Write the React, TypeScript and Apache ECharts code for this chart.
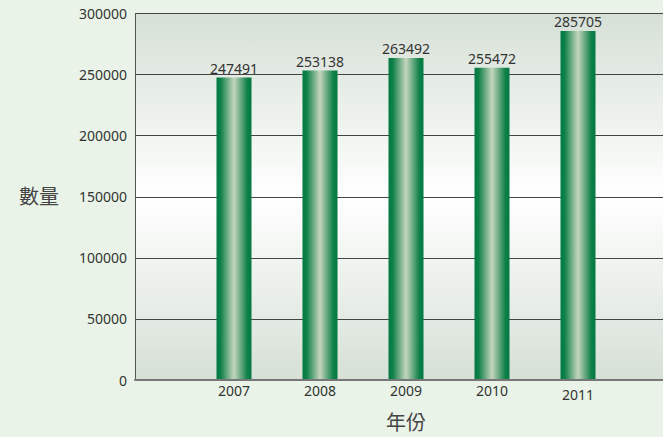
import React, { useEffect, useRef } from "react";
import * as echarts from "echarts";

const years = ["2007", "2008", "2009", "2010", "2011"];
const counts = [247491, 253138, 263492, 255472, 285705];
const yTicks = [0, 50000, 100000, 150000, 200000, 250000, 300000];

const FONT = "'Noto Sans', 'Noto Sans CJK TC', sans-serif";

export default function App() {
  const ref = useRef<HTMLDivElement>(null);
  useEffect(() => {
    if (!ref.current) return;
    const chart = echarts.init(ref.current, undefined, { renderer: "svg" });
    const yMax = yTicks[yTicks.length - 1];
    const yStep = yTicks[1] - yTicks[0];
    chart.setOption({
      animation: false,
      backgroundColor: "#eaf3e8",
      textStyle: { fontFamily: FONT },
      grid: [
        {
          left: 135,
          top: 13.5,
          right: 0,
          bottom: 57,
          show: true,
          borderWidth: 0,
          backgroundColor: new echarts.graphic.LinearGradient(0, 0, 0, 1, [
            { offset: 0, color: "#d6e0d6" },
            { offset: 0.5, color: "#ffffff" },
            { offset: 1, color: "#d6e0d6" },
          ]),
        },
        { left: 191, width: 430, top: 13.5, bottom: 57 },
      ],
      xAxis: [
        {
          type: "category",
          gridIndex: 0,
          data: [""],
          axisLine: { show: true, lineStyle: { color: "#777", width: 2 } },
          axisTick: { show: false },
          axisLabel: { show: false },
        },
        {
          type: "category",
          gridIndex: 1,
          data: years.map((y, i) =>
            i === years.length - 1
              ? { value: y, textStyle: { padding: [5, 0, 0, 0] } }
              : y
          ),
          axisLine: { show: false },
          axisTick: { show: false },
          axisLabel: { color: "#333", fontSize: 14, margin: 4, fontFamily: FONT },
          name: "年份",
          nameLocation: "middle",
          nameGap: 33,
          nameTextStyle: { color: "#444", fontSize: 20, fontFamily: FONT },
        },
      ],
      yAxis: [
        {
          type: "value",
          gridIndex: 0,
          min: 0,
          max: yMax,
          interval: yStep,
          axisLine: { show: true, lineStyle: { color: "#555", width: 1 } },
          axisTick: { show: false },
          axisLabel: {
            color: "#333",
            fontSize: 14,
            margin: 8,
            fontFamily: FONT,
            formatter: (v: number) => String(v),
          },
          splitLine: { show: true, lineStyle: { color: "#444", width: 1 } },
          name: "數量",
          nameLocation: "middle",
          nameRotate: 0,
          nameGap: 76,
          nameTextStyle: { color: "#444", fontSize: 20, fontFamily: FONT },
        },
        {
          type: "value",
          gridIndex: 1,
          min: 0,
          max: yMax,
          interval: yStep,
          show: false,
          splitLine: { show: false },
        },
      ],
      series: [
        {
          type: "bar",
          xAxisIndex: 1,
          yAxisIndex: 1,
          data: counts,
          barWidth: 35,
          itemStyle: {
            color: new echarts.graphic.LinearGradient(0, 0, 1, 0, [
              { offset: 0, color: "#007a42" },
              { offset: 0.12, color: "#0f8048" },
              { offset: 0.5, color: "#c6d6be" },
              { offset: 0.88, color: "#0f8048" },
              { offset: 1, color: "#007a42" },
            ]),
          },
          label: {
            show: true,
            position: "top",
            distance: 2,
            color: "#333",
            fontSize: 14,
            fontFamily: FONT,
          },
        },
      ],
    });
    return () => chart.dispose();
  }, []);
  return (
    <div
      ref={ref}
      style={{ position: "fixed", left: 0, top: 0, width: 663, height: 437 }}
    />
  );
}
